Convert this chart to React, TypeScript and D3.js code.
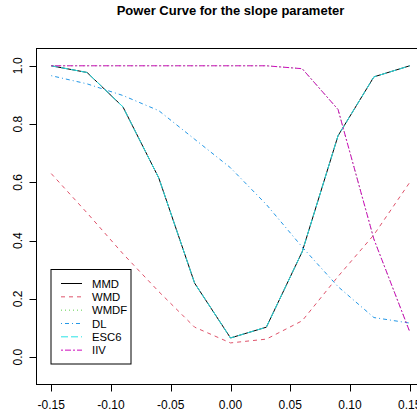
import * as d3 from "d3";

// slope values along the x axis
const slopes = [-0.15, -0.12, -0.09, -0.06, -0.03, 0, 0.03, 0.06, 0.09, 0.12, 0.15];

// power
const mmd = [1.0, 0.977, 0.859, 0.615, 0.254, 0.066, 0.103, 0.362, 0.76, 0.962, 1.0];
const wmd = [0.63, 0.495, 0.355, 0.225, 0.103, 0.049, 0.062, 0.125, 0.277, 0.42, 0.6];
const wmdf = [1.0, 1.0, 1.0, 1.0, 1.0, 1.0, 1.0, 0.99, 0.85, 0.405, 0.087];
const dl = [0.966, 0.938, 0.898, 0.846, 0.748, 0.65, 0.524, 0.378, 0.242, 0.136, 0.117];
const esc6 = [1.0, 0.977, 0.859, 0.615, 0.254, 0.066, 0.103, 0.362, 0.76, 0.962, 1.0];
const iiv = [1.0, 1.0, 1.0, 1.0, 1.0, 1.0, 1.0, 0.99, 0.85, 0.405, 0.087];

const seriesNames = ["MMD", "WMD", "WMDF", "DL", "ESC6", "IIV"];
const seriesColors = ["#000000", "#DF536B", "#61D04F", "#2297E6", "#28E2E5", "#CD0BBC"];
const seriesDash = ["", "4,4", "1,3", "1,3,4,3", "7,3", "2,2,6,2"];

const xTicks = [-0.15, -0.1, -0.05, 0, 0.05, 0.1, 0.15];
const yTicks = [0, 0.2, 0.4, 0.6, 0.8, 1.0];

const W = 417;
const H = 414;
const font = "'Liberation Sans', Arial, Helvetica, sans-serif";

export default function App() {
  const x = d3.scaleLinear().domain([-0.162, 0.162]).range([36.9, 424.1]);
  const y = d3.scaleLinear().domain([-0.092, 1.06]).range([384, 48.3]);

  const all = [mmd, wmd, wmdf, dl, esc6, iiv];
  const line = d3
    .line<number>()
    .x((_, i) => x(slopes[i]))
    .y((d) => y(d));

  const box = { x0: 36.5, x1: 424, y0: 48.5, y1: 384.5 };
  const leg = { x: 51, y: 269.5, w: 80, h: 94.5 };

  return (
    <svg
      width={W}
      height={H}
      style={{ position: "absolute", left: 0, top: 0, background: "#fff" }}
      fontFamily={font}
    >
      <text x={230.5} y={15} textAnchor="middle" fontSize={13} fontWeight="bold">
        Power Curve for the slope parameter
      </text>

      {/* series */}
      {all.map((s, i) => (
        <path
          key={seriesNames[i]}
          d={line(s) || ""}
          fill="none"
          stroke={seriesColors[i]}
          strokeWidth={1}
          strokeDasharray={seriesDash[i] || undefined}
        />
      ))}

      {/* plot box */}
      <rect
        x={box.x0}
        y={box.y0}
        width={box.x1 - box.x0}
        height={box.y1 - box.y0}
        fill="none"
        stroke="#000"
        strokeWidth={1}
      />

      {/* x axis */}
      <line x1={x(-0.15)} x2={x(0.15)} y1={box.y1} y2={box.y1} stroke="#000" />
      {xTicks.map((t) => (
        <g key={"x" + t}>
          <line
            x1={Math.round(x(t)) + 0.5}
            x2={Math.round(x(t)) + 0.5}
            y1={box.y1}
            y2={box.y1 + 7}
            stroke="#000"
          />
          <text x={x(t)} y={408.5} textAnchor="middle" fontSize={12}>
            {d3.format(".2f")(t).replace("−", "-")}
          </text>
        </g>
      ))}

      {/* y axis */}
      <line x1={box.x0} x2={box.x0} y1={y(0)} y2={y(1)} stroke="#000" />
      {yTicks.map((t) => (
        <g key={"y" + t}>
          <line
            x1={box.x0 - 7}
            x2={box.x0}
            y1={Math.round(y(t)) + 0.5}
            y2={Math.round(y(t)) + 0.5}
            stroke="#000"
          />
          <text
            transform={`translate(22,${y(t)}) rotate(-90)`}
            textAnchor="middle"
            fontSize={12}
          >
            {d3.format(".1f")(t)}
          </text>
        </g>
      ))}

      {/* legend */}
      <rect x={leg.x} y={leg.y} width={leg.w} height={leg.h} fill="#fff" stroke="#000" />
      {seriesNames.map((n, i) => {
        const ly = 283.5 + i * 13.33;
        return (
          <g key={"l" + n}>
            <line
              x1={61}
              x2={82}
              y1={ly}
              y2={ly}
              stroke={seriesColors[i]}
              strokeDasharray={seriesDash[i] || undefined}
            />
            <text x={92} y={ly} dy="0.36em" fontSize={11.3}>
              {n}
            </text>
          </g>
        );
      })}
    </svg>
  );
}
